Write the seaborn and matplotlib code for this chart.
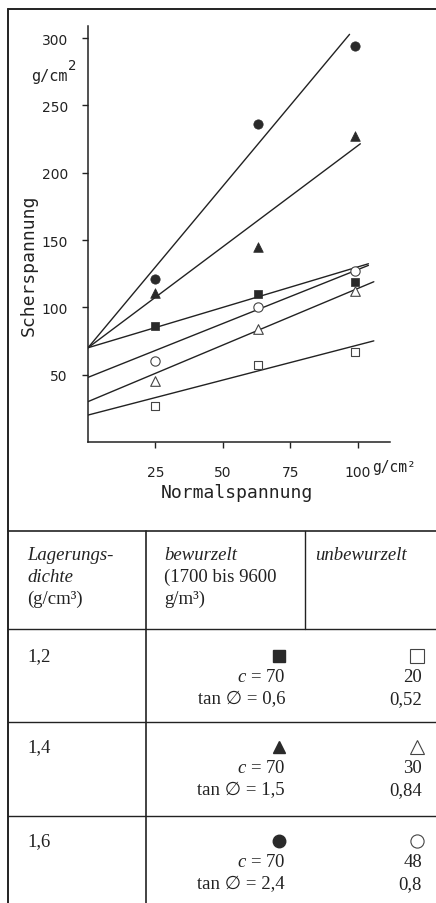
import matplotlib
matplotlib.use("Agg")
import matplotlib.pyplot as plt
import seaborn as sns
import numpy as np
import pandas as pd
from matplotlib.lines import Line2D

# ---------------- data ----------------
normal = [25, 63, 99]                     # Normalspannung (g/cm2)
bew_12 = [86, 110, 119]                   # bewurzelt, 1,2
bew_14 = [111, 145, 227]                  # bewurzelt, 1,4
bew_16 = [121, 236, 294]                  # bewurzelt, 1,6
unb_12 = [27, 57, 67]                     # unbewurzelt, 1,2
unb_14 = [45, 84, 112]                    # unbewurzelt, 1,4
unb_16 = [60, 100, 127]                   # unbewurzelt, 1,6
c_bew = [70, 70, 70]
tan_bew = [0.6, 1.5, 2.4]
c_unb = [20, 30, 48]
tan_unb = [0.52, 0.84, 0.8]
end_bew = [104, 101, 97]                  # x where fitted lines end
end_unb = [106, 106, 104]
dichte = ["1,2", "1,4", "1,6"]
c_bew_lbl = ["70", "70", "70"]
tan_bew_lbl = ["0,6", "1,5", "2,4"]
c_unb_lbl = ["20", "30", "48"]
tan_unb_lbl = ["0,52", "0,84", "0,8"]
xticks = [25, 50, 75, 100]
yticks = [50, 100, 150, 200, 250, 300]

# ---------------- style ----------------
sns.set_style("ticks")
plt.rcParams["font.family"] = ["DejaVu Sans"]
plt.rcParams["mathtext.fontset"] = "custom"
plt.rcParams["mathtext.rm"] = "Liberation Serif"
plt.rcParams["mathtext.it"] = "Liberation Serif:italic"

INK = "#222222"
W, H = 436, 904

def fx(x):
    return x / W

def fy(y):
    return 1 - y / H

fig = plt.figure(figsize=(W / 100, H / 100), dpi=100)
ax = fig.add_axes([fx(88), fy(443), 302 / W, 416 / H])

markers = ["s", "^", "o"]
msize = [38, 48, 45]
bew_all = [bew_12, bew_14, bew_16]
unb_all = [unb_12, unb_14, unb_16]

for i in range(3):
    xs = [0, end_bew[i]]
    ys = [c_bew[i] + tan_bew[i] * x for x in xs]
    sns.lineplot(x=xs, y=ys, ax=ax, color=INK, linewidth=1.0)
    xs = [0, end_unb[i]]
    ys = [c_unb[i] + tan_unb[i] * x for x in xs]
    sns.lineplot(x=xs, y=ys, ax=ax, color=INK, linewidth=1.0)

for i in range(3):
    sns.scatterplot(x=normal, y=bew_all[i], ax=ax, marker=markers[i], s=msize[i],
                    color="#2a2a2a", edgecolor="#2a2a2a", linewidth=0.5, zorder=3)
    sns.scatterplot(x=normal, y=unb_all[i], ax=ax, marker=markers[i], s=msize[i],
                    facecolor="white", edgecolor="#444444", linewidth=0.8, zorder=3)

ax.set_xlim(0, 112)
ax.set_ylim(0, 309)
sns.despine(ax=ax)
for sp in ["left", "bottom"]:
    ax.spines[sp].set_color(INK)
    ax.spines[sp].set_linewidth(1.1)
ax.set_xticks(xticks)
ax.set_yticks(yticks)
ax.set_xticklabels([str(t) for t in xticks], fontsize=10, color=INK)
ax.set_yticklabels([str(t) for t in yticks], fontsize=10, color=INK)
ax.tick_params(axis="both", direction="out", length=4.5, width=1.0, colors=INK)
ax.tick_params(axis="x", pad=12)
ax.tick_params(axis="y", pad=10)

ax.set_xlabel("Normalspannung", fontsize=13, family="DejaVu Sans Mono", color=INK)
ax.xaxis.set_label_coords((237 - 88) / 302, (443 - 484) / 416)
ax.set_ylabel("Scherspannung", fontsize=13, family="DejaVu Sans Mono", color=INK)
ax.yaxis.set_label_coords((38 - 88) / 302, (443 - 265) / 416)

# unit labels
fig.text(fx(31), fy(77), "g/cm", fontsize=11, family="DejaVu Sans Mono",
         color=INK, ha="left", va="center")
fig.text(fx(68), fy(66), "2", fontsize=10, family="DejaVu Sans Mono",
         color=INK, ha="left", va="center")
fig.text(fx(372), fy(468), "g/cm\u00b2", fontsize=10.5, family="DejaVu Sans Mono",
         color=INK, ha="left", va="center")

# ---------------- frame & table ----------------
def hline(y, x0, x1, lw=1.0):
    fig.add_artist(Line2D([fx(x0), fx(x1)], [fy(y), fy(y)], color=INK, linewidth=lw))

def vline(x, y0, y1, lw=1.0):
    fig.add_artist(Line2D([fx(x), fx(x)], [fy(y0), fy(y1)], color=INK, linewidth=lw))

hline(10, 8, 436, 1.4)
vline(8, 10, 904, 1.4)
hline(532, 8, 436, 1.2)
hline(630, 8, 436, 1.0)
hline(723, 8, 436, 1.0)
hline(817, 8, 436, 1.0)
vline(146, 532, 904, 1.2)
vline(305, 532, 630, 1.0)

serif = ["Liberation Serif", "DejaVu Sans"]
TS = 13.5

def t(x, y, s, ha="left", style="normal"):
    fig.text(fx(x), fy(y), s, fontsize=TS, family=serif, style=style,
             color=INK, ha=ha, va="center")

t(27, 555, "Lagerungs-", style="italic")
t(27, 577, "dichte", style="italic")
t(27, 599, "(g/cm\u00b3)")
t(164, 555, "bewurzelt", style="italic")
t(164, 577, "(1700 bis 9600")
t(164, 599, "g/m\u00b3)")
t(315, 555, "unbewurzelt", style="italic")

row_y = [657, 748, 842]
for i in range(3):
    y0 = row_y[i]
    t(27, y0, dichte[i])
    fig.add_artist(Line2D([fx(279)], [fy(y0)], marker=markers[i], markersize=9,
                          color="#2a2a2a", markeredgecolor="#2a2a2a", linestyle="none"))
    fig.add_artist(Line2D([fx(417)], [fy(y0)], marker=markers[i], markersize=9.5,
                          markerfacecolor="white", markeredgecolor="#444444",
                          markeredgewidth=0.8, linestyle="none"))
    t(285, y0 + 21, "$c$ = " + c_bew_lbl[i], ha="right")
    t(285, y0 + 43, "tan \u2205 = " + tan_bew_lbl[i], ha="right")
    t(422, y0 + 21, c_unb_lbl[i], ha="right")
    t(422, y0 + 43, tan_unb_lbl[i], ha="right")

fig.savefig("out.png", dpi=100, facecolor="white")
